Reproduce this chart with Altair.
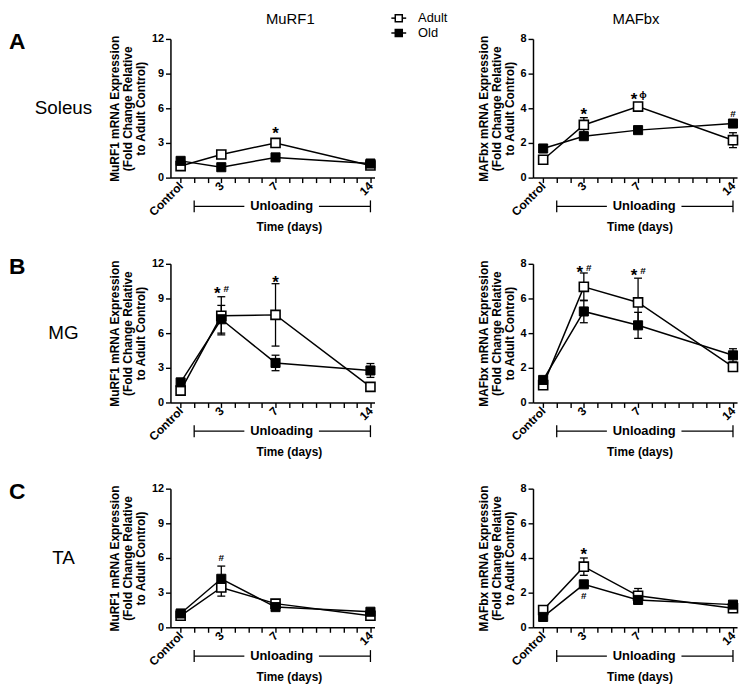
import altair as alt
import pandas as pd

FONT = "Liberation Sans"

# ---------------- data ----------------
days = [0, 3, 7, 14]
x_tick_days = list(range(15))
groups = ["Adult", "Old"]

soleus_murf1_adult = [1.0, 2.0, 3.0, 1.05]
soleus_murf1_adult_sem = [0.1, 0.15, 0.3, 0.1]
soleus_murf1_old = [1.45, 0.9, 1.75, 1.22]
soleus_murf1_old_sem = [0.2, 0.1, 0.3, 0.15]

soleus_mafbx_adult = [1.03, 3.04, 4.1, 2.16]
soleus_mafbx_adult_sem = [0.1, 0.42, 0.15, 0.43]
soleus_mafbx_old = [1.68, 2.39, 2.74, 3.12]
soleus_mafbx_old_sem = [0.2, 0.15, 0.12, 0.12]

mg_murf1_adult = [1.03, 7.5, 7.58, 1.35]
mg_murf1_adult_sem = [0.1, 1.65, 2.7, 0.12]
mg_murf1_old = [1.74, 7.2, 3.42, 2.77]
mg_murf1_old_sem = [0.25, 1.2, 0.67, 0.6]

mg_mafbx_adult = [1.0, 6.67, 5.77, 2.05]
mg_mafbx_adult_sem = [0.1, 0.8, 1.4, 0.15]
mg_mafbx_old = [1.3, 5.25, 4.45, 2.72]
mg_mafbx_old_sem = [0.15, 0.65, 0.75, 0.38]

ta_murf1_adult = [1.0, 3.45, 2.05, 1.0]
ta_murf1_adult_sem = [0.1, 0.75, 0.35, 0.1]
ta_murf1_old = [1.2, 4.2, 1.75, 1.35]
ta_murf1_old_sem = [0.15, 1.1, 0.2, 0.15]

ta_mafbx_adult = [1.0, 3.5, 1.82, 1.1]
ta_mafbx_adult_sem = [0.1, 0.5, 0.42, 0.1]
ta_mafbx_old = [0.6, 2.48, 1.58, 1.31]
ta_mafbx_old_sem = [0.1, 0.12, 0.1, 0.1]

# significance marks: (day, y position, symbol)
soleus_murf1_marks = [(7, 4.2, "*")]
soleus_mafbx_marks = [(3, 3.9, "*"), (7, 4.75, "*\u03d5"), (14, 3.65, "#")]
mg_murf1_marks = [(3, 9.85, "*#"), (7, 10.8, "*")]
mg_mafbx_marks = [(3, 7.75, "*#"), (7, 7.6, "*#")]
ta_murf1_marks = [(3, 6.0, "#")]
ta_mafbx_marks = [(3, 4.45, "*"), (3, 1.8, "#")]

murf1_ticks = [0, 3, 6, 9, 12]
mafbx_ticks = [0, 2, 4, 6, 8]
murf1_title = ["MuRF1 mRNA Expression", "(Fold Change Relative", "to Adult Control)"]
mafbx_title = ["MAFbx mRNA Expression", "(Fold Change Relative", "to Adult Control)"]

column_titles = ["MuRF1", "MAFbx"]
row_letters = ["A", "B", "C"]
row_muscles = ["Soleus", "MG", "TA"]

unloading_span = [1, 14]
unloading_gap = [4.7, 10.2]
unloading_label_day = 7.45

# ---------------- layout ----------------
W, H = 206, 140
XDOM = [-0.75, 14.3]


def panel(adult, adult_sem, old, old_sem, yticks, ytitle, marks,
          col_title=None, col_title_x=0, letter=None, muscle=None, legend=False,
          time_x=120):
    df = pd.DataFrame({
        "day": days * 2,
        "value": adult + old,
        "sem": adult_sem + old_sem,
        "group": [groups[0]] * 4 + [groups[1]] * 4,
    })
    df["lo"] = df["value"] - df["sem"]
    df["hi"] = df["value"] + df["sem"]

    xscale = alt.Scale(domain=XDOM, nice=False, zero=False)
    yscale = alt.Scale(domain=[0, yticks[-1]], nice=False)
    xaxis = alt.Axis(
        values=x_tick_days, title=None, labelAngle=315, labelAlign="right",
        labelBaseline="middle", labelPadding=1, labelOverlap=False, labelFlush=False,
        labelFontSize=12,
        labelExpr="datum.value == 0 ? 'Control' : ((datum.value == 3 || datum.value == 7 || datum.value == 14) ? datum.label : '')",
    )
    yaxis = alt.Axis(values=yticks, title=ytitle, titlePadding=4, titleLineHeight=13,
                     labelPadding=2)

    def X(f):
        return alt.X(f, type="quantitative", scale=xscale, axis=xaxis)

    def Y(f):
        return alt.Y(f, type="quantitative", scale=yscale, axis=yaxis)

    base = alt.Chart(df)
    lines = base.mark_line(color="black", strokeWidth=1.5).encode(
        x=X("day"), y=Y("value"), detail="group:N")
    err = base.mark_rule(color="black", strokeWidth=1.3).encode(
        x=X("day"), y=Y("lo"), y2="hi")
    cap_hi = base.mark_rule(color="black", strokeWidth=1.3, xOffset=-4, x2Offset=4).encode(
        x=X("day"), x2="day", y=Y("hi"))
    cap_lo = base.mark_rule(color="black", strokeWidth=1.3, xOffset=-4, x2Offset=4).encode(
        x=X("day"), x2="day", y=Y("lo"))
    pts_adult = base.transform_filter(alt.datum.group == groups[0]).mark_square(
        size=84, fill="white", stroke="black", strokeWidth=1.6, opacity=1).encode(
        x=X("day"), y=Y("value"))
    pts_old = base.transform_filter(alt.datum.group == groups[1]).mark_square(
        size=84, fill="black", stroke="black", strokeWidth=1, opacity=1).encode(
        x=X("day"), y=Y("value"))

    layers = [lines, err, cap_hi, cap_lo, pts_adult, pts_old]

    # significance symbols
    star_rows, sym_rows = [], []
    for d, yv, s in marks:
        if s.startswith("*"):
            star_rows.append({"day": d, "y": yv, "s": "*", "dx": -4 if len(s) > 1 else 0})
            if len(s) > 1:
                sym_rows.append({"day": d, "y": yv, "s": s[1:], "dx": 5})
        else:
            sym_rows.append({"day": d, "y": yv, "s": s, "dx": 0})
    for rows, size, weight, dy in [(star_rows, 17, "bold", 5), (sym_rows, 10, "bold", 0)]:
        if rows:
            sdf = pd.DataFrame(rows)
            for dxv in sorted(sdf["dx"].unique()):
                sub = sdf[sdf["dx"] == dxv]
                layers.append(alt.Chart(sub).mark_text(
                    font=FONT, fontSize=size, fontWeight=weight, color="black",
                    dx=int(dxv), dy=dy, baseline="middle").encode(
                    x=X("day"), y=Y("y"), text="s:N"))

    # Unloading bracket
    seg = pd.DataFrame({"a": [unloading_span[0], unloading_gap[1]],
                        "b": [unloading_gap[0], unloading_span[1]]})
    layers.append(alt.Chart(seg).mark_rule(color="black", strokeWidth=1.3).encode(
        x=X("a"), x2="b", y=alt.value(H + 29)))
    caps = pd.DataFrame({"a": unloading_span})
    layers.append(alt.Chart(caps).mark_rule(color="black", strokeWidth=1.3).encode(
        x=X("a"), y=alt.value(H + 23), y2=alt.value(H + 35)))
    lab = pd.DataFrame({"a": [unloading_label_day], "t": ["Unloading"]})
    layers.append(alt.Chart(lab).mark_text(
        font=FONT, fontSize=13, fontWeight="bold", color="black", baseline="middle").encode(
        x=X("a"), y=alt.value(H + 29), text="t:N"))
    tl = pd.DataFrame({"t": ["Time (days)"]})
    layers.append(alt.Chart(tl).mark_text(
        font=FONT, fontSize=12, fontWeight="bold", color="black", baseline="middle").encode(
        x=alt.value(time_x), y=alt.value(H + 50), text="t:N"))

    if col_title:
        ct = pd.DataFrame({"t": [col_title]})
        layers.append(alt.Chart(ct).mark_text(
            font=FONT, fontSize=15, color="black", baseline="middle").encode(
            x=alt.value(col_title_x), y=alt.value(-20), text="t:N"))
    if letter:
        lt = pd.DataFrame({"t": [letter]})
        layers.append(alt.Chart(lt).mark_text(
            font=FONT, fontSize=23, fontWeight="bold", color="black",
            align="left", baseline="middle").encode(
            x=alt.value(-163), y=alt.value(3), text="t:N"))
    if muscle:
        mt = pd.DataFrame({"t": [muscle]})
        layers.append(alt.Chart(mt).mark_text(
            font=FONT, fontSize=19, color="black", baseline="middle").encode(
            x=alt.value(-108), y=alt.value(70), text="t:N"))
    if legend:
        for i, g in enumerate(groups):
            ly = -21 + 15 * i
            ldf = pd.DataFrame({"t": [g]})
            layers.append(alt.Chart(ldf).mark_rule(color="black", strokeWidth=1.5).encode(
                x=alt.value(223), x2=alt.value(238), y=alt.value(ly)))
            layers.append(alt.Chart(ldf).mark_square(
                size=50, fill="white" if i == 0 else "black", stroke="black",
                strokeWidth=1.5, opacity=1).encode(
                x=alt.value(230.5), y=alt.value(ly)))
            layers.append(alt.Chart(ldf).mark_text(
                font=FONT, fontSize=13, color="black", align="left", baseline="middle").encode(
                x=alt.value(250), y=alt.value(ly), text="t:N"))

    return alt.layer(*layers).properties(width=W, height=H)


p1 = panel(soleus_murf1_adult, soleus_murf1_adult_sem, soleus_murf1_old, soleus_murf1_old_sem,
           murf1_ticks, murf1_title, soleus_murf1_marks, col_title=column_titles[0],
           col_title_x=121, letter=row_letters[0], muscle=row_muscles[0], legend=True)
p2 = panel(soleus_mafbx_adult, soleus_mafbx_adult_sem, soleus_mafbx_old, soleus_mafbx_old_sem,
           mafbx_ticks, mafbx_title, soleus_mafbx_marks, col_title=column_titles[1],
           col_title_x=104, time_x=108)
p3 = panel(mg_murf1_adult, mg_murf1_adult_sem, mg_murf1_old, mg_murf1_old_sem,
           murf1_ticks, murf1_title, mg_murf1_marks, letter=row_letters[1], muscle=row_muscles[1])
p4 = panel(mg_mafbx_adult, mg_mafbx_adult_sem, mg_mafbx_old, mg_mafbx_old_sem,
           mafbx_ticks, mafbx_title, mg_mafbx_marks, time_x=108)
p5 = panel(ta_murf1_adult, ta_murf1_adult_sem, ta_murf1_old, ta_murf1_old_sem,
           murf1_ticks, murf1_title, ta_murf1_marks, letter=row_letters[2], muscle=row_muscles[2])
p6 = panel(ta_mafbx_adult, ta_mafbx_adult_sem, ta_mafbx_old, ta_mafbx_old_sem,
           mafbx_ticks, mafbx_title, ta_mafbx_marks, time_x=108)

chart = alt.concat(p1, p2, p3, p4, p5, p6, columns=2,
                   spacing={"row": 87, "column": 160}, bounds="flush").properties(
    autosize=alt.AutoSizeParams(type="none"),
    padding={"left": 164, "top": 28, "right": 577, "bottom": 651},
).configure_view(stroke=None).configure_axis(
    grid=False, domainColor="black", tickColor="black", domainWidth=1.5, tickWidth=1.4,
    tickSize=5, labelColor="black", titleColor="black", labelFont=FONT, titleFont=FONT,
    labelFontSize=11, labelFontWeight="bold", titleFontSize=12, titleFontWeight="bold",
)

chart.save("out.html", embed_options={"renderer": "svg", "actions": False})
